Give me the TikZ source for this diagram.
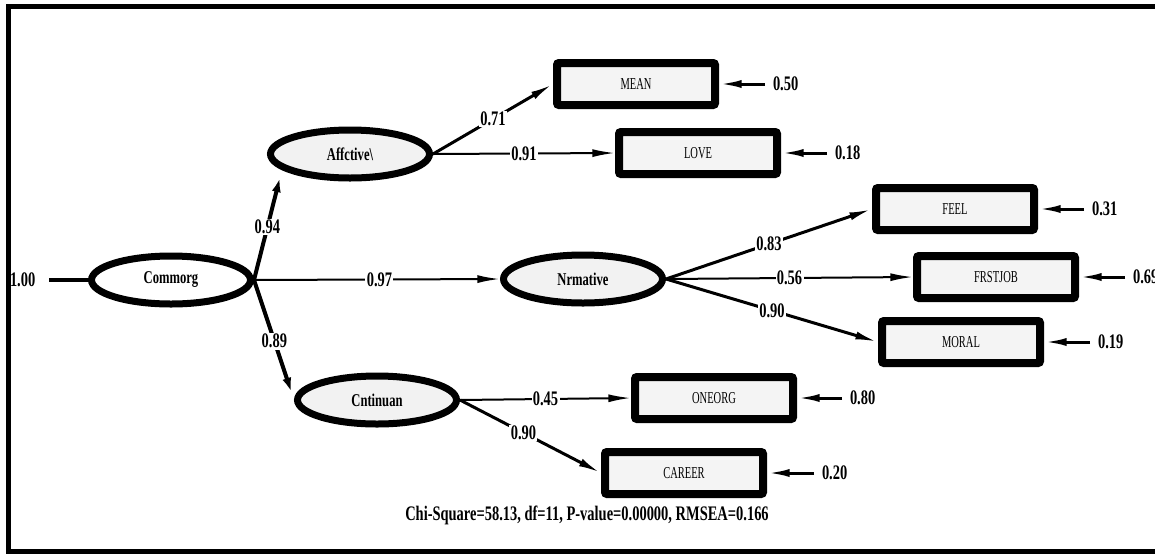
\documentclass[tikz,border=0pt]{standalone}
\usepackage{fontspec}
\setmainfont{Liberation Serif}
\newfontfamily\condfont{Liberation Serif}[FakeStretch=0.7]
\newfontfamily\boxfont{Liberation Serif}[FakeStretch=0.63]
\usetikzlibrary{arrows.meta,shapes.geometric}
\newdimen\pxu \pxu=0.75pt
\definecolor{latfill}{HTML}{F2F2F2}
\definecolor{boxfill}{HTML}{F4F4F4}
\begin{document}
\begin{tikzpicture}[x=0.75pt,y=-0.75pt,
  lat/.style={ellipse, draw, line width=5.25pt, fill=latfill, minimum width=159\pxu, minimum height=48\pxu, inner sep=0pt, font=\condfont\bfseries\fontsize{13.5}{14}\selectfont},
  obs/.style={rectangle, draw, line width=6pt, rounded corners=1.5pt, fill=boxfill, minimum width=158\pxu, minimum height=42\pxu, inner sep=0pt, font=\boxfont\fontsize{12.5}{13}\selectfont},
  coef/.style={font=\condfont\bfseries\fontsize{15.5}{16}\selectfont, fill=white, inner sep=1pt},
  reslab/.style={font=\condfont\bfseries\fontsize{15.5}{16}\selectfont, anchor=west, inner sep=0pt, outer sep=0pt},
  tip/.style={-{Latex[length=17pt,width=6pt]}},
  thickpath/.style={tip, line width=3pt},
  midpath/.style={tip, line width=2.25pt},
  thinpath/.style={tip, line width=1.5pt},
  respath/.style={tip, line width=2.25pt, shorten <=6pt},
]
\useasboundingbox (0,0) rectangle (1155,554);
% frame
\draw[line width=3.75pt] (1155,6) -- (8.5,6) -- (8.5,551) -- (1155,551);

% latent variables
\node[lat, fill=white] (com) at (171,280) {Commorg};
\node[lat] (aff) at (350,154) {Affctive\textbackslash};
\node[lat] (nor) at (583,279) {Nrmative};
\node[lat] (con) at (377,400) {Cntinuan};

% observed variables
\node[obs] (mean) at (636,84) {MEAN};
\node[obs] (love) at (698,153) {LOVE};
\node[obs] (feel) at (955,209) {FEEL};
\node[obs] (frst) at (996,277) {FRSTJOB};
\node[obs] (moral) at (961,342) {MORAL};
\node[obs] (oneorg) at (714,398) {ONEORG};
\node[obs] (career) at (684,473) {CAREER};

% variance of Commorg
\node[reslab] (ecom) at (10,280) {1.00};
\draw[line width=3pt, shorten <=10.5pt] (ecom.east) -- (com.west);

% structural paths
\draw[thickpath] (com.east) -- node[coef, pos=0.48] {0.94} (aff.193);
\draw[thinpath] (com.east) -- node[coef, pos=0.51] {0.97} (nor.west);
\draw[thickpath] (com.east) -- node[coef, pos=0.51] {0.89} (con.west);

% loadings
\draw[midpath] (aff.east) -- node[coef] {0.71} (mean.west);
\draw[thinpath] (aff.east) -- node[coef] {0.91} (love.west);
\draw[midpath] (nor.east) -- node[coef] {0.83} (feel.west);
\draw[thinpath] (nor.east) -- node[coef] {0.56} (frst.west);
\draw[midpath] (nor.east) -- node[coef] {0.90} (moral.west);
\draw[thinpath] (con.east) -- node[coef] {0.45} (oneorg.west);
\draw[midpath] (con.east) -- node[coef, pos=0.45] {0.90} (career.west);

% error variances
\node[reslab] (emean) at (773,84) {0.50};
\node[reslab] (elove) at (835,153) {0.18};
\node[reslab] (efeel) at (1092,209) {0.31};
\node[reslab] (efrst) at (1133,277) {0.69};
\node[reslab] (emoral) at (1098,342) {0.19};
\node[reslab] (eoneorg) at (850,398) {0.80};
\node[reslab] (ecareer) at (822,473) {0.20};
\draw[respath] (emean.west) -- (mean.east);
\draw[respath] (elove.west) -- (love.east);
\draw[respath] (efeel.west) -- (feel.east);
\draw[respath] (efrst.west) -- (frst.east);
\draw[respath] (emoral.west) -- (moral.east);
\draw[respath] (eoneorg.west) -- (oneorg.east);
\draw[respath] (ecareer.west) -- (career.east);

% fit statistics
\node[font=\condfont\bfseries\fontsize{15.5}{16}\selectfont] (chi) at (587,515) {Chi-Square=58.13, df=11, P-value=0.00000, RMSEA=0.166};
\end{tikzpicture}
\end{document}
